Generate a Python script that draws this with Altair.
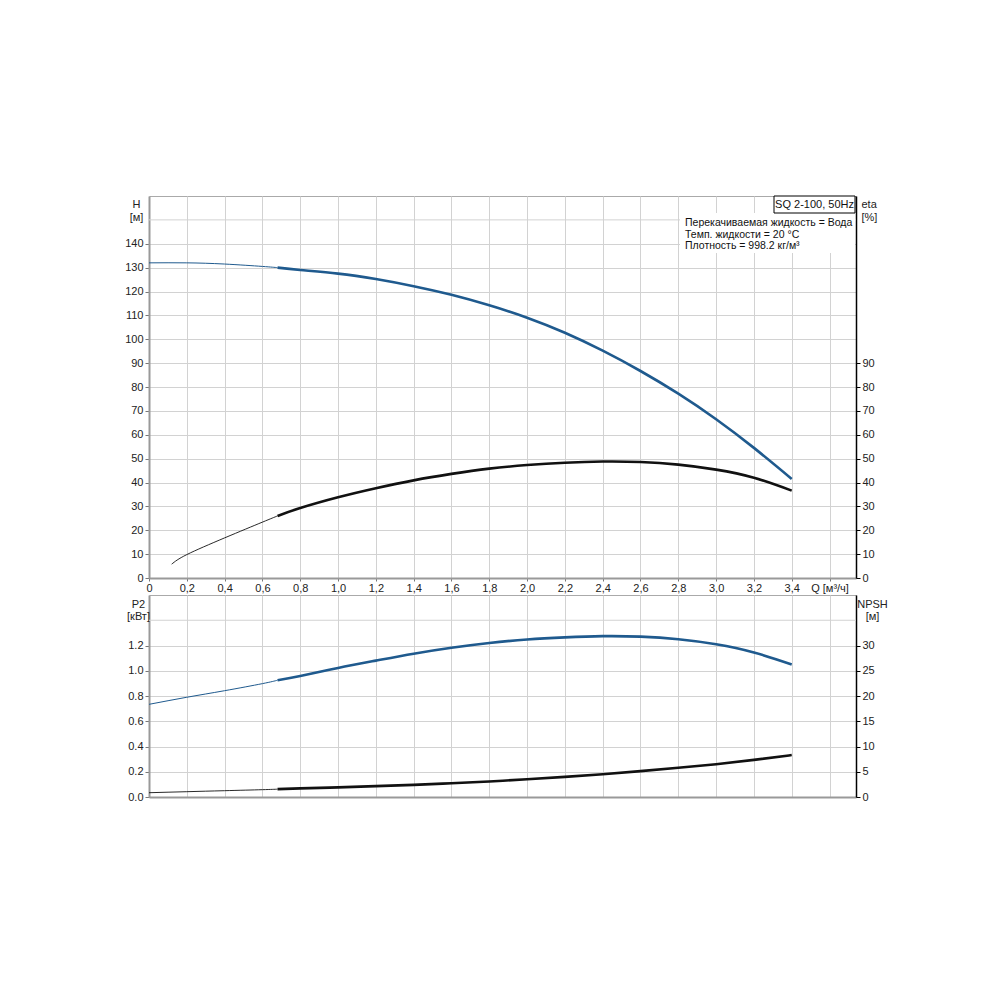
import altair as alt
import pandas as pd

# ---------------- data ----------------
Q = [0.0, 0.2, 0.4, 0.6, 0.68, 0.8, 1.0, 1.2, 1.4, 1.6, 1.8, 2.0, 2.2, 2.4, 2.6, 2.8, 3.0, 3.2, 3.4]
H = [132, 132, 131.5, 130.5, 130, 129, 127.5, 125.2, 122.2, 118.6, 114.2, 109, 102.7, 95.2, 86.7, 77.2, 66.5, 54.5, 41.5]

Q_ETA = [0.12, 0.2, 0.4, 0.6, 0.68, 0.8, 1.0, 1.2, 1.4, 1.6, 1.8, 2.0, 2.2, 2.4, 2.6, 2.8, 3.0, 3.2, 3.4]
ETA = [5.8, 9.8, 16.8, 23.4, 26.0, 29.3, 33.8, 37.6, 40.9, 43.6, 45.8, 47.3, 48.3, 48.8, 48.6, 47.5, 45.4, 42.0, 36.6]

P2 = [0.734, 0.79, 0.842, 0.898, 0.925, 0.958, 1.022, 1.08, 1.135, 1.182, 1.22, 1.247, 1.264, 1.274, 1.27, 1.25, 1.21, 1.145, 1.05]
NPSH = [0.85, 1.05, 1.25, 1.45, 1.55, 1.7, 1.9, 2.15, 2.4, 2.72, 3.08, 3.5, 3.98, 4.52, 5.12, 5.78, 6.5, 7.35, 8.3]

Q_SPLIT = 0.68          # thin part of the curves before this flow
X_MAX = 3.74
X_TICKS = [0, 0.2, 0.4, 0.6, 0.8, 1.0, 1.2, 1.4, 1.6, 1.8, 2.0, 2.2, 2.4, 2.6, 2.8, 3.0, 3.2, 3.4, 3.6]
H_TICKS = [0, 10, 20, 30, 40, 50, 60, 70, 80, 90, 100, 110, 120, 130, 140]
H_EXTRA_GRID = [150]
ETA_TICKS = [0, 10, 20, 30, 40, 50, 60, 70, 80, 90]
P2_TICKS = [0.0, 0.2, 0.4, 0.6, 0.8, 1.0, 1.2]
P2_EXTRA_GRID = [1.4]
NPSH_TICKS = [0, 5, 10, 15, 20, 25, 30]

TITLE_BOX = ["SQ 2-100, 50Hz"]
INFO_LINES = ["Перекачиваемая жидкость = Вода", "Темп. жидкости = 20 °C", "Плотность = 998.2 кг/м³"]

# ---------------- style ----------------
FONT = "Liberation Sans"
BLUE = "#1f5a8e"
BLACK = "#111111"
GRID = "#d2d2d2"
AXG = "#999999"
W = 707
H_TOP = 382
H_BOT = 202
INFO_Y = [27, 38.5, 50]


def seg(q, v, lo, hi):
    rows = [(a, b) for a, b in zip(q, v) if lo <= a <= hi]
    return pd.DataFrame({"Q": [r[0] for r in rows], "v": [r[1] for r in rows]})


x_lab = ("datum.value > 3.5 ? 'Q [м³/ч]' : (datum.value == 0 ? '0' : "
         "replace(format(datum.value, '.1f'), '.', ','))")

x_top = alt.X("Q:Q", scale=alt.Scale(domain=[0, X_MAX], nice=False, zero=False),
              axis=alt.Axis(values=X_TICKS, grid=True, gridColor=GRID, labelExpr=x_lab,
                            labelOverlap=False, labelFlush=False, domainColor=AXG, domainWidth=2,
                            tickColor="#777", tickSize=3, labelPadding=1, title=None))
x_bot = alt.X("Q:Q", scale=alt.Scale(domain=[0, X_MAX], nice=False, zero=False),
              axis=alt.Axis(values=X_TICKS, grid=True, gridColor=GRID, labels=False, ticks=False,
                            domainColor=AXG, domainWidth=2, title=None))


def curve(df, x, y, color, width):
    return alt.Chart(df).mark_line(color=color, strokeWidth=width, interpolate="natural").encode(x=x, y=y)


# ---------- top panel ----------
yH = alt.Y("v:Q", scale=alt.Scale(domain=[0, 160], nice=False),
           axis=alt.Axis(values=H_TICKS, grid=True, gridColor=GRID, title=["H", "[м]"], labelOverlap=False,
                         titleAngle=0, titleAlign="center", titleBaseline="top", titleX=-13, titleY=2,
                         titleLineHeight=13, domainColor=AXG, domainWidth=2, tickColor="#777",
                         tickSize=4, labelPadding=2))
yEta = alt.Y("v:Q", scale=alt.Scale(domain=[0, 160], nice=False),
             axis=alt.Axis(orient="right", values=ETA_TICKS, grid=False, title=["eta", "[%]"],
                           labelOverlap=False,
                           titleAngle=0, titleAlign="left", titleBaseline="top", titleX=5, titleY=2,
                           titleLineHeight=13, domainColor="#000", domainWidth=1.5, tickColor="#000",
                           tickSize=4, labelPadding=2))

h_grid150 = alt.Chart(pd.DataFrame({"v": H_EXTRA_GRID})).mark_rule(color=GRID, strokeWidth=1).encode(y=yH)
info_bg = alt.Chart(pd.DataFrame({"a": [0]})).mark_rect(fill="white").encode(
    x=alt.value(531), x2=alt.value(706), y=alt.value(17), y2=alt.value(57))
box = alt.Chart(pd.DataFrame({"a": [0]})).mark_rect(fill="white", stroke="#000", strokeWidth=1).encode(
    x=alt.value(625), x2=alt.value(706), y=alt.value(0), y2=alt.value(17))
box_text = alt.Chart(pd.DataFrame({"t": TITLE_BOX})).mark_text(
    font=FONT, fontSize=11, color="#111", align="center", baseline="middle").encode(
    text="t:N", x=alt.value(665.5), y=alt.value(8.5))
info_layers = [
    alt.Chart(pd.DataFrame({"t": [line]})).mark_text(
        font=FONT, fontSize=10.5, color="#111", align="left", baseline="middle").encode(
        text="t:N", x=alt.value(536), y=alt.value(yy))
    for line, yy in zip(INFO_LINES, INFO_Y)
]

left_top = alt.layer(
    curve(seg(Q, H, 0, Q_SPLIT), x_top, yH, BLUE, 1),
    curve(seg(Q, H, Q_SPLIT, 9), x_top, yH, BLUE, 2.6),
    h_grid150,
)
right_top = alt.layer(
    curve(seg(Q_ETA, ETA, 0, Q_SPLIT), x_top, yEta, BLACK, 0.9),
    curve(seg(Q_ETA, ETA, Q_SPLIT, 9), x_top, yEta, BLACK, 2.6),
)
top = alt.layer(left_top, right_top, info_bg, box, box_text, *info_layers).resolve_scale(
    y="independent").properties(width=W, height=H_TOP)

# ---------- bottom panel ----------
yP = alt.Y("v:Q", scale=alt.Scale(domain=[0, 1.6], nice=False),
           axis=alt.Axis(values=P2_TICKS, format=".1f", grid=True, gridColor=GRID, title=["P2", "[кВт]"],
                         labelOverlap=False,
                         titleAngle=0, titleAlign="center", titleBaseline="top", titleX=-11, titleY=3,
                         titleLineHeight=12, domainColor=AXG, domainWidth=2, tickColor="#777",
                         tickSize=4, labelPadding=2))
yN = alt.Y("v:Q", scale=alt.Scale(domain=[0, 40], nice=False),
           axis=alt.Axis(orient="right", values=NPSH_TICKS, grid=False, title=["NPSH", "[м]"],
                         labelOverlap=False,
                         titleAngle=0, titleAlign="center", titleBaseline="top", titleX=16, titleY=3,
                         titleLineHeight=12, domainColor="#000", domainWidth=1.5, tickColor="#000",
                         tickSize=4, labelPadding=2))
p_grid14 = alt.Chart(pd.DataFrame({"v": P2_EXTRA_GRID})).mark_rule(color=GRID, strokeWidth=1).encode(y=yP)

left_bot = alt.layer(
    curve(seg(Q, P2, 0, Q_SPLIT), x_bot, yP, BLUE, 1),
    curve(seg(Q, P2, Q_SPLIT, 9), x_bot, yP, BLUE, 2.6),
    p_grid14,
)
right_bot = alt.layer(
    curve(seg(Q, NPSH, 0, Q_SPLIT), x_bot, yN, BLACK, 0.9),
    curve(seg(Q, NPSH, Q_SPLIT, 9), x_bot, yN, BLACK, 2.6),
)
bottom = alt.layer(left_bot, right_bot).resolve_scale(y="independent").properties(width=W, height=H_BOT)

chart = alt.vconcat(top, bottom, spacing=0).properties(
    padding={"left": 116, "top": 187, "right": 5, "bottom": 5}
).configure_view(stroke="#aaaaaa", strokeWidth=1).configure_axis(
    labelFont=FONT, labelFontSize=11, labelColor="#222", titleFont=FONT, titleFontSize=11,
    titleFontWeight="normal", titleColor="#222"
)

chart.save("out.html", embed_options={"renderer": "svg", "actions": False})
